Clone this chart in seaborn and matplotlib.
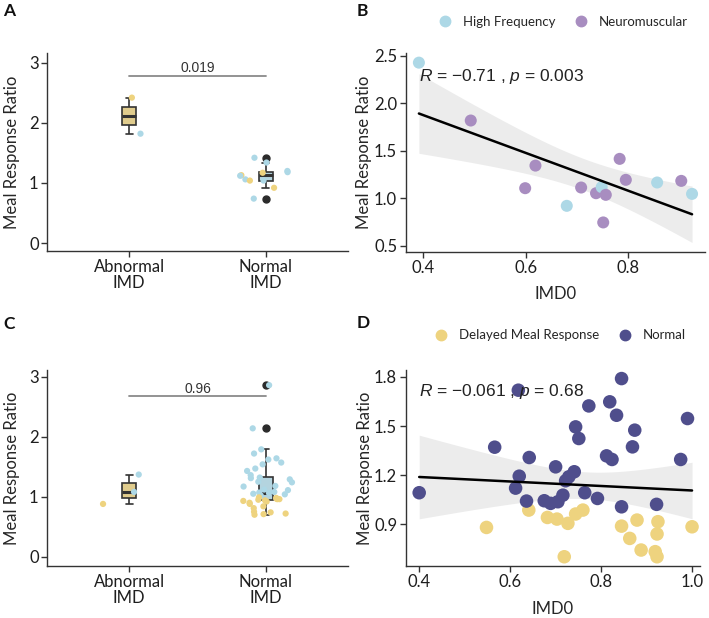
import numpy as np
import pandas as pd
import seaborn as sns
import matplotlib.pyplot as plt
from matplotlib.lines import Line2D

YELLOW = "#EED37F"
LBLUE = "#ADD8E6"
PURPLE = "#A88DC0"
NAVY = "#4F4E8C"
DARK = "#333333"

CATS = ["Abnormal\nIMD", "Normal\nIMD"]

# panel A - meal response ratio by IMD group
a_imd = [CATS[0]] * 2 + [CATS[1]] * 12
a_ratio = [2.42, 1.82,
           1.42, 1.34, 1.20, 1.18, 1.06, 1.04, 1.13, 1.17, 1.12, 1.04, 0.92, 0.74]
a_dot = ["Y", "B",
         "B", "B", "B", "B", "B", "Y", "Y", "Y", "B", "B", "Y", "B"]
a_pval = "0.019"

# panel B - ratio vs IMD0
b_imd0 = [0.392, 0.493, 0.619, 0.599, 0.680, 0.708, 0.737, 0.748, 0.756, 0.751,
          0.783, 0.795, 0.856, 0.903, 0.924]
b_ratio = [2.43, 1.82, 1.345, 1.107, 0.921, 1.114, 1.054, 1.118, 1.037, 0.746,
           1.416, 1.195, 1.167, 1.184, 1.047]
b_type = ["High Frequency", "Neuromuscular", "Neuromuscular", "Neuromuscular",
          "High Frequency", "Neuromuscular", "Neuromuscular", "High Frequency",
          "Neuromuscular", "Neuromuscular", "Neuromuscular", "Neuromuscular",
          "High Frequency", "Neuromuscular", "High Frequency"]
b_label = "$\\mathit{R}$ = \u22120.71 , $\\mathit{p}$ = 0.003"

# panel C - larger cohort
c_abn_ratio = [1.37, 1.08, 0.88]
c_abn_dot = ["B", "B", "Y"]
c_norm_blue = [2.86, 2.14, 1.79, 1.72, 1.64, 1.54, 1.43, 1.62, 1.57, 1.47, 1.36,
               1.32, 1.29, 1.24, 1.18, 1.11, 1.04, 1.07, 1.17, 1.08, 1.06, 1.25,
               1.31, 1.02, 1.12, 1.05]
c_norm_yellow = [0.70, 0.71, 0.72, 0.74, 0.75, 0.81, 0.84, 0.88, 0.90, 0.92, 0.93,
                 0.94, 0.95, 0.96, 0.96, 0.97, 0.98, 0.99]
c_pval = "0.96"

# panel D - ratio vs IMD0, coloured by meal response
d_norm_imd0 = [0.400, 0.566, 0.618, 0.620, 0.612, 0.636, 0.642, 0.675, 0.689, 0.700,
               0.705, 0.716, 0.722, 0.729, 0.741, 0.744, 0.751, 0.764, 0.773, 0.792,
               0.812, 0.824, 0.819, 0.834, 0.845, 0.845, 0.869, 0.874, 0.922, 0.975,
               0.990]
d_norm_ratio = [1.093, 1.371, 1.719, 1.194, 1.121, 1.042, 1.308, 1.044, 1.028, 1.251,
                1.038, 1.078, 1.166, 1.190, 1.221, 1.495, 1.424, 1.093, 1.623, 1.058,
                1.318, 1.296, 1.648, 1.566, 1.790, 1.007, 1.373, 1.475, 1.022, 1.296,
                1.546]
d_del_imd0 = [0.548, 0.641, 0.682, 0.703, 0.727, 0.719, 0.744, 0.760, 0.845, 0.863,
              0.879, 0.888, 0.919, 0.923, 0.925, 0.923, 1.000]
d_del_ratio = [0.881, 0.987, 0.942, 0.932, 0.906, 0.702, 0.963, 0.987, 0.889, 0.814,
               0.926, 0.743, 0.733, 0.702, 0.916, 0.841, 0.885]
d_label = "$\\mathit{R}$ = \u22120.061 , $\\mathit{p}$ = 0.68"

# two-sided 95% t quantiles for the residual degrees of freedom used here
T975 = {13: 2.160, 46: 2.013}


def style_axes(ax):
    sns.despine(ax=ax)
    for s in ["left", "bottom"]:
        ax.spines[s].set_color(DARK)
        ax.spines[s].set_linewidth(1.0)
    ax.tick_params(length=4, width=1, pad=2, color=DARK, labelsize=12,
                   labelcolor="#1e1e1e")


def draw_box(ax, df, pval, bar_y, text_y, ylim):
    sns.boxplot(data=df, x="imd", y="ratio", order=CATS, hue="imd", hue_order=CATS,
                palette=[YELLOW, LBLUE], width=0.1, linewidth=1.2, linecolor=DARK,
                fliersize=5,
                flierprops=dict(marker="o", markerfacecolor="#2b2b2b",
                                markeredgecolor="#2b2b2b"),
                medianprops=dict(linewidth=2.2), legend=False, ax=ax)
    sns.stripplot(data=df, x="imd", y="ratio", order=CATS, hue="dot",
                  palette={"Y": YELLOW, "B": LBLUE}, jitter=0.2, size=4.5,
                  linewidth=0, legend=False, ax=ax)
    ax.plot([0, 1], [bar_y, bar_y], color="#8a8a8a", lw=1.3)
    ax.text(0.5, text_y, pval, ha="center", va="center", fontsize=10,
            family="Liberation Sans", color="#333333")
    ax.set_xlim(-0.6, 1.6)
    ax.set_ylim(*ylim)
    ax.set_yticks([0, 1, 2, 3])
    ax.set_xlabel("")
    ax.set_ylabel("Meal Response Ratio", fontsize=12)
    ax.yaxis.set_label_coords(-0.09, 0.5)
    style_axes(ax)
    for lab in ax.get_xticklabels():
        lab.set_linespacing(0.95)


def draw_scatter(ax, df, order, colours, size, label, label_xy, leg_y):
    sns.regplot(data=df, x="imd0", y="ratio", scatter=False, ci=None, color="black",
                line_kws=dict(linewidth=1.8, zorder=3), ax=ax)
    # linear-model confidence band, as geom_smooth(method = "lm") draws it
    x = df["imd0"].to_numpy()
    y = df["ratio"].to_numpy()
    n = len(x)
    slope, icpt = np.polyfit(x, y, 1)
    resid = y - (icpt + slope * x)
    s = np.sqrt(np.sum(resid ** 2) / (n - 2))
    grid = np.linspace(x.min(), x.max(), 100)
    se = s * np.sqrt(1 / n + (grid - x.mean()) ** 2 / np.sum((x - x.mean()) ** 2))
    fit = icpt + slope * grid
    ax.fill_between(grid, fit - T975[n - 2] * se, fit + T975[n - 2] * se,
                    color="#E6E6E6", alpha=0.75, linewidth=0, zorder=1)
    sns.scatterplot(data=df, x="imd0", y="ratio", hue="type", hue_order=order,
                    palette=colours, s=size, linewidth=0, legend=False, ax=ax,
                    zorder=2)
    ax.text(label_xy[0], label_xy[1], label, ha="left", va="center", fontsize=12.5,
            family="Liberation Sans", color="#222222", zorder=4)
    handles = [Line2D([0], [0], marker="o", ls="", markersize=7.5,
                      markerfacecolor=c, markeredgecolor=c) for c in colours]
    ax.legend(handles, order, loc="center", bbox_to_anchor=(0.515, leg_y), ncol=2,
              frameon=False, fontsize=9.5, handletextpad=0.4, columnspacing=0.9,
              borderaxespad=0)
    ax.set_xlabel("IMD0", fontsize=12)
    ax.set_ylabel("Meal Response Ratio", fontsize=12)
    ax.yaxis.set_label_coords(-0.112, 0.5)
    style_axes(ax)


sns.set_theme(style="ticks")
plt.rcParams["font.family"] = ["Lato", "DejaVu Sans"]
plt.rcParams["mathtext.fontset"] = "custom"
plt.rcParams["mathtext.it"] = "Liberation Sans:italic"
plt.rcParams["mathtext.rm"] = "Liberation Sans"
np.random.seed(3)

fig = plt.figure(figsize=(7.09, 6.18), dpi=100)
axA = fig.add_axes([0.0663, 0.594, 0.4245, 0.320])
axB = fig.add_axes([0.572, 0.592, 0.4222, 0.322])
axC = fig.add_axes([0.0663, 0.084, 0.4245, 0.318])
axD = fig.add_axes([0.572, 0.084, 0.4150, 0.318])

dfA = pd.DataFrame({"imd": a_imd, "ratio": a_ratio, "dot": a_dot})
draw_box(axA, dfA, a_pval, 2.78, 2.92, (-0.13, 3.16))

dfB = pd.DataFrame({"imd0": b_imd0, "ratio": b_ratio, "type": b_type})
draw_scatter(axB, dfB, ["High Frequency", "Neuromuscular"], [LBLUE, PURPLE], 75,
             b_label, (0.393, 2.28), 1.156)
axB.set_xlim(0.366, 0.949)
axB.set_ylim(0.433, 2.53)
axB.set_xticks([0.4, 0.6, 0.8])
axB.set_yticks([0.5, 1.0, 1.5, 2.0, 2.5])
axB.xaxis.set_label_coords(0.5, -0.17)

dfC = pd.DataFrame({
    "imd": [CATS[0]] * len(c_abn_ratio) + [CATS[1]] * (len(c_norm_blue) + len(c_norm_yellow)),
    "ratio": c_abn_ratio + c_norm_blue + c_norm_yellow,
    "dot": c_abn_dot + ["B"] * len(c_norm_blue) + ["Y"] * len(c_norm_yellow),
})
draw_box(axC, dfC, c_pval, 2.68, 2.79, (-0.156, 3.12))

dfD = pd.DataFrame({
    "imd0": d_del_imd0 + d_norm_imd0,
    "ratio": d_del_ratio + d_norm_ratio,
    "type": ["Delayed Meal Response"] * len(d_del_imd0) + ["Normal"] * len(d_norm_imd0),
})
draw_scatter(axD, dfD, ["Delayed Meal Response", "Normal"], [YELLOW, NAVY], 95,
             d_label, (0.40, 1.709), 1.175)
axD.set_xlim(0.37, 1.017)
axD.set_ylim(0.645, 1.845)
axD.set_xticks([0.4, 0.6, 0.8, 1.0])
axD.set_yticks([0.9, 1.2, 1.5, 1.8])
axD.xaxis.set_label_coords(0.5, -0.178)

for x, y, s in [(3, 3, "A"), (357, 3, "B"), (3, 316, "C"), (357, 315, "D")]:
    fig.text(x / 709, 1 - y / 618, s, ha="left", va="top", fontsize=12.5,
             fontweight="bold", color="#111111")

fig.savefig("out.png", dpi=100)
